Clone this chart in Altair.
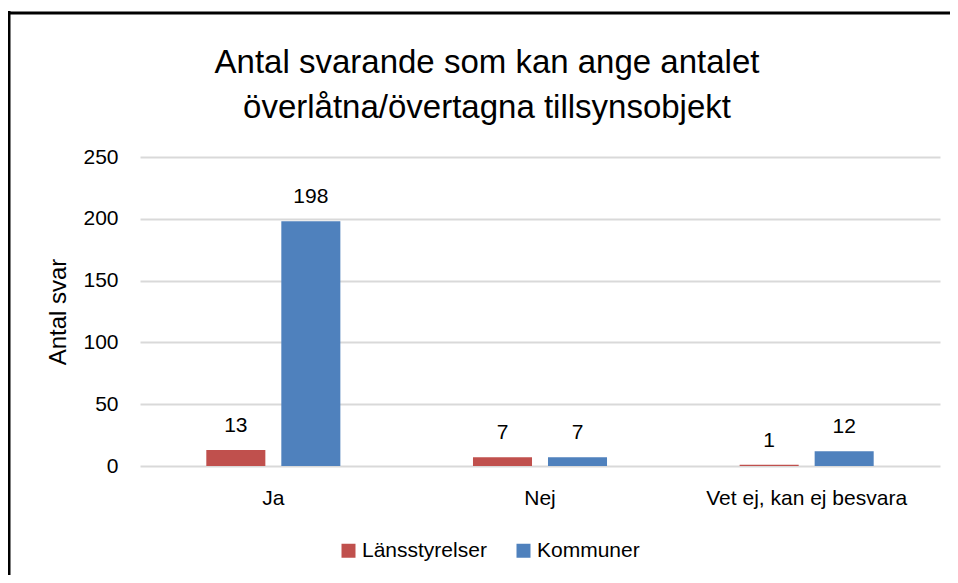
import altair as alt
import pandas as pd

categories = ["Ja", "Nej", "Vet ej, kan ej besvara"]
series_names = ["Länsstyrelser", "Kommuner"]
lansstyrelser = [13, 7, 1]
kommuner = [198, 7, 12]
colors = ["#C0504D", "#4F81BD"]
title_lines = ["Antal svarande som kan ange antalet", "överlåtna/övertagna tillsynsobjekt"]
y_title = "Antal svar"

rows = []
for c, a, b in zip(categories, lansstyrelser, kommuner):
    rows.append({"kategori": c, "serie": series_names[0], "antal": a})
    rows.append({"kategori": c, "serie": series_names[1], "antal": b})
df = pd.DataFrame(rows)

FONT = "Liberation Sans"

x = alt.X("kategori:N", sort=categories,
          scale=alt.Scale(paddingInner=0, paddingOuter=0),
          axis=alt.Axis(title=None, labelAngle=0, ticks=False, domain=False,
                        labelFontSize=21, labelFont=FONT, labelColor="black",
                        labelPadding=21, labelLimit=0, grid=False))
xo = alt.XOffset("serie:N", sort=series_names,
                 scale=alt.Scale(paddingInner=0.213, paddingOuter=0.884))
y = alt.Y("antal:Q", scale=alt.Scale(domain=[0, 250]),
          axis=alt.Axis(title=y_title, values=[0, 50, 100, 150, 200, 250],
                        ticks=False, domain=False, labelFontSize=21, labelFont=FONT,
                        labelColor="black", labelPadding=22, titleFontSize=24,
                        titleFont=FONT, titleFontWeight="normal", titleColor="black",
                        titlePadding=12, gridColor="#d9d9d9", gridWidth=2))
color = alt.Color("serie:N", sort=series_names,
                  scale=alt.Scale(domain=series_names, range=colors),
                  legend=alt.Legend(title=None, orient="none", legendX=198, legendY=383,
                                    direction="horizontal", symbolType="square",
                                    symbolSize=196, symbolStrokeWidth=0,
                                    labelFontSize=21, labelFont=FONT, labelColor="black",
                                    labelOffset=3, columnPadding=26))

base = alt.Chart(df)
bars = base.mark_bar().encode(x=x, xOffset=xo, y=y, color=color)
labels = base.mark_text(fontSize=21, font=FONT, color="black", baseline="alphabetic",
                        dy=-18).encode(x=x, xOffset=xo, y=y, text="antal:Q")

border = alt.Data(values=[{"k": 1}])
top_rule = alt.Chart(border).mark_rule(color="black", strokeWidth=3).encode(
    x=alt.value(-140), x2=alt.value(830), y=alt.value(-144))
left_rule = alt.Chart(border).mark_rule(color="black", strokeWidth=3).encode(
    x=alt.value(-131), y=alt.value(-146), y2=alt.value(440))

chart = alt.layer(bars, labels, top_rule, left_rule).properties(
    width=800, height=309,
    padding={"left": 132, "top": 149, "right": 10, "bottom": 109},
    autosize=alt.AutoSizeParams(type="none"),
    title=alt.TitleParams(text=title_lines, anchor="middle", dx=-53, offset=30, dy=145,
                          fontSize=33, font=FONT, fontWeight="normal", color="black",
                          lineHeight=45),
).configure_view(stroke=None)

chart.save("out.html", embed_options={"renderer": "svg", "actions": False})
